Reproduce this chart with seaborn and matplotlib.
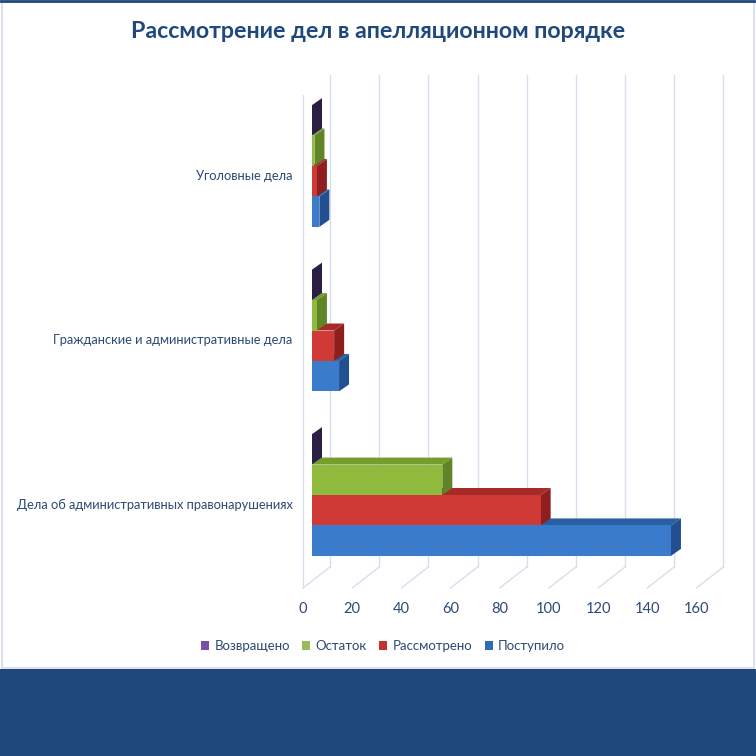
"""
Appeal case review chart: pseudo-3D clustered horizontal bars.
"""

import pandas as pd
import matplotlib.pyplot as plt
import seaborn as sns
from matplotlib.lines import Line2D
from matplotlib.patches import Patch, Polygon, Rectangle
from matplotlib.transforms import ScaledTranslation

# Data
categories = [
    "Уголовные дела",
    "Гражданские и административные дела",
    "Дела об административных правонарушениях",
]
series = ["Возвращено", "Остаток", "Рассмотрено", "Поступило"]
vozvrashcheno = [0, 0, 0]
ostatok = [1, 2, 53]
rassmotreno = [2, 9, 93]
postupilo = [3, 11, 146]
x_ticks = [0, 20, 40, 60, 80, 100, 120, 140, 160]

# front / side / top shades per series
front_colors = ["#3d2c5e", "#8fba3e", "#cf3a36", "#3a7bcc"]
side_colors = ["#2a1e43", "#5f8526", "#8f1f1e", "#214f8f"]
top_colors = ["#4a3870", "#739d2d", "#a82a28", "#2b5fa3"]
legend_colors = ["#7a4fa3", "#9bbb59", "#c3322f", "#2e6bb8"]

TITLE_COLOR = "#1f497d"
TEXT_COLOR = "#2c4a73"
GRID_COLOR = "#d6dfec"
BAND_COLOR = "#1f497d"

W = H = 756
DPI = 100

df = pd.DataFrame(
    {
        "Категория": categories * 4,
        "Показатель": [s for s in series for _ in categories],
        "Количество": vozvrashcheno + ostatok + rassmotreno + postupilo,
    }
)

sns.set_theme(style="white")
plt.rcParams["font.family"] = ["Lato", "DejaVu Sans"]

fig = plt.figure(figsize=(W / DPI, H / DPI), dpi=DPI)
fig.patch.set_facecolor("white")


def fx(px):
    return px / W


def fy(py):
    return 1 - py / H


# axes placed in reference pixel coordinates (bar front plane)
ax_left, ax_right, ax_top, ax_bottom = 312, 705.4, 83.75, 577.25
ax = fig.add_axes(
    [fx(ax_left), fy(ax_bottom), fx(ax_right - ax_left), (ax_bottom - ax_top) / H]
)
ax.set_facecolor("none")

sns.barplot(
    data=df,
    y="Категория",
    x="Количество",
    hue="Показатель",
    order=categories,
    hue_order=series,
    palette=front_colors,
    saturation=1,
    width=0.74,
    orient="h",
    legend=False,
    ax=ax,
)
ax.set_xlim(0, 160)
ax.set_ylim(len(categories) - 0.5, -0.5)

# depth of each bar in data units (10 px right, 7 px up)
px_per_x = (ax_right - ax_left) / 160
px_per_y = (ax_bottom - ax_top) / len(categories)
ddx = 10 / px_per_x
ddy = 7 / px_per_y

for i, container in enumerate(ax.containers):
    base_z = 10 + (len(series) - i) * 3
    for bar in container:
        x0, y0 = bar.get_x(), bar.get_y()
        w, h = bar.get_width(), bar.get_height()
        x1, y1 = x0 + w, y0 + h
        bar.set_edgecolor("none")
        bar.set_zorder(base_z + 2)
        side = Polygon(
            [(x1, y0), (x1 + ddx, y0 - ddy), (x1 + ddx, y1 - ddy), (x1, y1)],
            closed=True, facecolor=side_colors[i], edgecolor="none",
            zorder=base_z + 1, clip_on=False,
        )
        top = Polygon(
            [(x0, y0), (x0 + ddx, y0 - ddy), (x1 + ddx, y0 - ddy), (x1, y0)],
            closed=True, facecolor=top_colors[i], edgecolor="none",
            zorder=base_z + 1, clip_on=False,
        )
        ax.add_patch(side)
        ax.add_patch(top)

# walls and gridlines (back wall, floor, left edge)
back_dx, front_dx = 18, -9
back_top, back_floor, front_top, front_floor = 75, 567, 95, 588
for v in x_ticks:
    px = ax_left + v * px_per_x
    fig.add_artist(Line2D([fx(px + back_dx)] * 2, [fy(back_top), fy(back_floor)],
                          color=GRID_COLOR, lw=1, zorder=0))
    fig.add_artist(Line2D([fx(px + front_dx), fx(px + back_dx)],
                          [fy(front_floor), fy(back_floor)],
                          color=GRID_COLOR, lw=1, zorder=0))
fig.add_artist(Line2D([fx(ax_left + front_dx)] * 2, [fy(front_top), fy(front_floor)],
                      color=GRID_COLOR, lw=1, zorder=0))

# axis ticks and labels
ax.set_xticks(x_ticks)
ax.set_xticklabels([str(v) for v in x_ticks])
ax.set_xlabel("")
ax.set_ylabel("")
ax.tick_params(axis="x", length=0, pad=18, labelsize=10.5, labelcolor=TEXT_COLOR)
ax.tick_params(axis="y", length=0, pad=14, labelsize=9.3, labelcolor=TEXT_COLOR)
for lab in ax.get_xticklabels():
    lab.set_transform(lab.get_transform()
                      + ScaledTranslation(front_dx / DPI, 0, fig.dpi_scale_trans))
for lab in ax.get_yticklabels():
    lab.set_transform(lab.get_transform()
                      + ScaledTranslation(0, -9 / DPI, fig.dpi_scale_trans))
for sp in ax.spines.values():
    sp.set_visible(False)
ax.grid(False)

# title
fig.text(0.5, fy(31), "Рассмотрение дел в апелляционном порядке",
         ha="center", va="center", fontsize=16.7, fontweight="bold",
         color=TITLE_COLOR)

# legend
handles = [Patch(facecolor=c, edgecolor="none", label=s)
           for c, s in zip(legend_colors, series)]
fig.legend(handles=handles, loc="center", bbox_to_anchor=(fx(383), fy(646)),
           ncol=4, frameon=False, fontsize=9.5, handlelength=0.6,
           handleheight=0.6, handletextpad=0.4, columnspacing=0.95,
           labelcolor=TEXT_COLOR)

# chart frame and bottom band
fig.add_artist(Rectangle((fx(2), fy(668)), fx(752), (668 - 2) / H,
                         facecolor="none", edgecolor="#d3dcea", lw=1.2))
fig.add_artist(Line2D([0, 1], [fy(1), fy(1)], color=BAND_COLOR, lw=2))
fig.add_artist(Rectangle((0, 0), 1, fy(669), facecolor=BAND_COLOR,
                         edgecolor="none"))

fig.savefig("out.png", dpi=DPI)
